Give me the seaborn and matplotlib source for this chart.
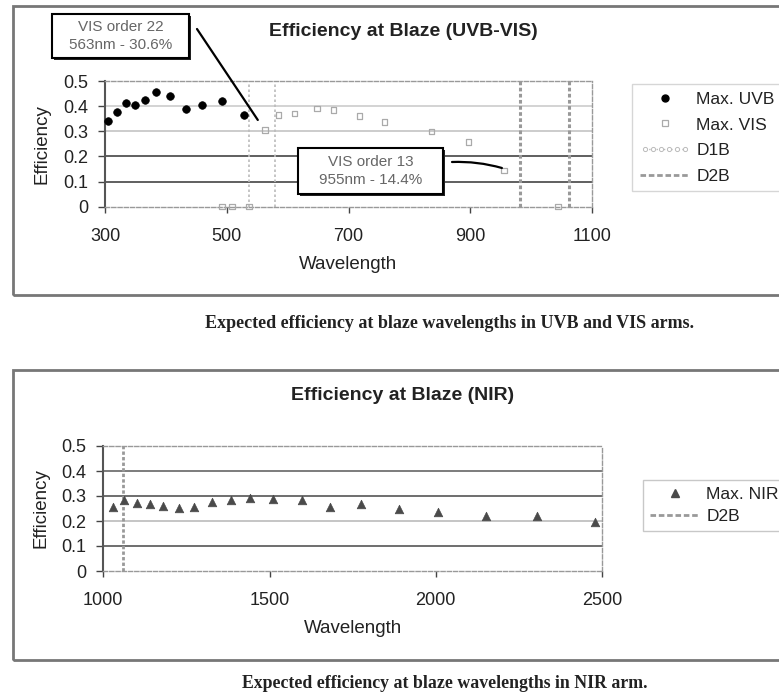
import numpy as np
import pandas as pd
import seaborn as sns
import matplotlib
matplotlib.use("Agg")
import matplotlib.pyplot as plt
from matplotlib.lines import Line2D
from matplotlib.patches import Rectangle
from matplotlib.legend_handler import HandlerLine2D
from matplotlib.ticker import FuncFormatter

# ---------------- data ----------------
uvb_wl = [305, 320, 334, 349, 366, 384, 407, 433, 459, 492, 528]
uvb_eff = [0.341, 0.375, 0.414, 0.406, 0.423, 0.458, 0.442, 0.388, 0.405, 0.419, 0.364]

vis_wl = [492, 509, 537, 563, 585, 611, 648, 675, 718, 759, 836, 897, 955, 1044]
vis_eff = [0.0, 0.0, 0.0, 0.306, 0.365, 0.371, 0.390, 0.384, 0.360, 0.337, 0.300, 0.258, 0.144, 0.0]

nir_wl = [1030, 1063, 1100, 1141, 1181, 1229, 1274, 1326, 1384, 1442, 1510,
          1598, 1681, 1775, 1889, 2006, 2152, 2303, 2479]
nir_eff = [0.255, 0.284, 0.273, 0.267, 0.260, 0.253, 0.255, 0.275, 0.283, 0.293, 0.288,
           0.284, 0.257, 0.268, 0.247, 0.235, 0.221, 0.221, 0.197]

d1b_top = [537, 579]
d2b_top = [981, 1063]
d2b_nir = [1060]

top_xticks = [300, 500, 700, 900, 1100]
nir_xticks = [1000, 1500, 2000, 2500]
yticks = [0, 0.1, 0.2, 0.3, 0.4, 0.5]

title_top = "Efficiency at Blaze (UVB-VIS)"
title_nir = "Efficiency at Blaze (NIR)"
caption_top = "Expected efficiency at blaze wavelengths in UVB and VIS arms."
caption_nir = "Expected efficiency at blaze wavelengths in NIR arm."
note1 = "VIS order 22\n563nm - 30.6%"
note2 = "VIS order 13\n955nm - 14.4%"
legend_top = ["Max. UVB", "Max. VIS", "D1B", "D2B"]
legend_nir = ["Max. NIR", "D2B"]

df_uvb = pd.DataFrame({"Wavelength": uvb_wl, "Efficiency": uvb_eff})
df_vis = pd.DataFrame({"Wavelength": vis_wl, "Efficiency": vis_eff})
df_nir = pd.DataFrame({"Wavelength": nir_wl, "Efficiency": nir_eff})

# ---------------- style ----------------
sns.set_theme(style="white")
plt.rcParams["font.family"] = ["Liberation Sans", "DejaVu Sans"]

W, H = 779, 698
fig = plt.figure(figsize=(W / 100, H / 100), dpi=100)
fig.patch.set_facecolor("white")


def fx(px):
    return px / W


def fy(py):
    return 1 - py / H


def frame(x0, y0, x1, y1):
    r = Rectangle((fx(x0), fy(y1)), fx(x1) - fx(x0), fy(y0) - fy(y1),
                  transform=fig.transFigure, fill=False, edgecolor="#777777",
                  lw=2.0, clip_on=False, zorder=0)
    fig.patches.append(r)


frame(12.7, 6, 800, 295)
frame(13, 370, 800, 660)


def style_axes(ax, xticks, xlim, grid_colors):
    ax.set_xlim(*xlim)
    ax.set_ylim(0, 0.5)
    ax.set_xticks(xticks)
    ax.set_yticks(yticks)
    ax.yaxis.set_major_formatter(FuncFormatter(lambda v, p: f"{v:g}"))
    ax.tick_params(axis="x", direction="out", length=4, width=1, color="#444444",
                   pad=11, labelsize=13, labelcolor="#222222", bottom=True)
    ax.tick_params(axis="y", direction="out", length=5, width=1, color="#444444",
                   pad=7, labelsize=13, labelcolor="#222222", left=True)
    for s in ["top", "right", "bottom"]:
        ax.spines[s].set_linestyle((0, (3, 1.5)))
        ax.spines[s].set_color("#999999")
        ax.spines[s].set_linewidth(1.0)
    ax.spines["left"].set_color("#555555")
    ax.spines["left"].set_linewidth(1.5)
    ax.yaxis.grid(True)
    ax.xaxis.grid(False)
    gl = ax.get_ygridlines()
    for line, c in zip(gl, grid_colors):
        line.set_color(c)
        line.set_linewidth(1.2)
    ax.set_axisbelow(True)


# ---------------- top chart ----------------
ax1 = fig.add_axes([fx(105), fy(206.7), fx(592) - fx(105), fy(81) - fy(206.7)])
style_axes(ax1, top_xticks, (300, 1100),
           ["none", "#444444", "#444444", "#c4c4c4", "#cccccc", "none"])
for x in d1b_top:
    ax1.axvline(x, color="#bbbbbb", lw=1.2, ls=(0, (1.5, 1.5)), zorder=1)
for x in d2b_top:
    ax1.axvline(x, color="#999999", lw=2.2, ls=(0, (1.2, 0.8)), zorder=1)

sns.scatterplot(data=df_uvb, x="Wavelength", y="Efficiency", ax=ax1, marker="o",
                color="black", s=30, edgecolor="black", linewidth=0.5, zorder=3,
                legend=False, clip_on=False)
sns.scatterplot(data=df_vis, x="Wavelength", y="Efficiency", ax=ax1, marker="s",
                facecolor="none", edgecolor="#aaaaaa", s=16, linewidth=0.9, zorder=3,
                legend=False, clip_on=False)
ax1.set_xlabel("Wavelength", fontsize=13.5, color="#222222", labelpad=8)
ax1.set_ylabel("Efficiency", fontsize=13.5, color="#222222", labelpad=9)

fig.text(fx(403), fy(32), title_top, fontsize=14, fontweight="bold",
         ha="center", va="center", color="#222222")


def note_box(x0, y0, x1, y1, text, ls):
    sh = Rectangle((fx(x0 + 2), fy(y1 + 2)), fx(x1) - fx(x0), fy(y0) - fy(y1),
                   transform=fig.transFigure, facecolor="#222222", edgecolor="none",
                   zorder=5)
    r = Rectangle((fx(x0), fy(y1)), fx(x1) - fx(x0), fy(y0) - fy(y1),
                  transform=fig.transFigure, facecolor="white", edgecolor="black",
                  lw=1.5, zorder=6)
    fig.patches.extend([sh, r])
    fig.text(fx((x0 + x1) / 2), fy((y0 + y1) / 2), text, fontsize=11,
             color="#666666", ha="center", va="center", linespacing=ls, zorder=7)


note_box(52, 14, 189, 58, note1, 1.45)
note_box(298, 148, 443, 194, note2, 1.35)

ax1.annotate("", xy=(551, 0.345), xycoords="data",
             xytext=(fx(197), fy(29)), textcoords="figure fraction",
             arrowprops=dict(arrowstyle="-", color="black", lw=1.6,
                             shrinkA=0, shrinkB=0), annotation_clip=False)
ax1.annotate("", xy=(952, 0.154), xycoords="data",
             xytext=(fx(452), fy(162)), textcoords="figure fraction",
             arrowprops=dict(arrowstyle="-", color="black", lw=1.6,
                             shrinkA=0, shrinkB=0,
                             connectionstyle="arc3,rad=-0.08"),
             annotation_clip=False)

h_top = [
    Line2D([], [], marker="o", color="black", ls="", markersize=5),
    Line2D([], [], marker="s", mfc="none", mec="#aaaaaa", ls="", markersize=4, mew=0.9),
    Line2D([], [], marker="o", mfc="white", mec="#bbbbbb", color="#bbbbbb",
           ls=":", lw=1, markersize=3, mew=0.7),
    Line2D([], [], color="#999999", ls=(0, (2, 1)), lw=2),
]
leg1 = fig.legend(h_top, legend_top, loc="upper left",
                  bbox_to_anchor=(fx(632), fy(84)), bbox_transform=fig.transFigure,
                  frameon=True, fancybox=False, edgecolor="#cccccc", fontsize=12.5,
                  handlelength=2.9, handletextpad=0.35, labelspacing=0.6,
                  borderpad=0.45, borderaxespad=0,
                  handler_map={h_top[2]: HandlerLine2D(numpoints=6),
                               h_top[0]: HandlerLine2D(numpoints=1),
                               h_top[1]: HandlerLine2D(numpoints=1)})
leg1.get_frame().set_linewidth(1.0)
for t in leg1.get_texts():
    t.set_color("#222222")

fig.text(fx(450), fy(323), caption_top, fontsize=13, fontweight="bold",
         family=["Liberation Serif", "DejaVu Serif"], ha="center", va="center",
         color="#222222")

# ---------------- bottom chart ----------------
ax2 = fig.add_axes([fx(103.3), fy(571), fx(602) - fx(103.3), fy(446) - fy(571)])
style_axes(ax2, nir_xticks, (1000, 2500),
           ["none", "#555555", "#bbbbbb", "#555555", "#666666", "none"])
for x in d2b_nir:
    ax2.axvline(x, color="#999999", lw=2.0, ls=(0, (1.2, 0.8)), zorder=1)
sns.scatterplot(data=df_nir, x="Wavelength", y="Efficiency", ax=ax2, marker="^",
                color="#4a4a4a", edgecolor="#4a4a4a", s=38, linewidth=0.5, zorder=3,
                legend=False)
ax2.set_xlabel("Wavelength", fontsize=13.5, color="#222222", labelpad=8)
ax2.set_ylabel("Efficiency", fontsize=13.5, color="#222222", labelpad=9)

fig.text(fx(403), fy(396), title_nir, fontsize=14, fontweight="bold",
         ha="center", va="center", color="#222222")

h_nir = [
    Line2D([], [], marker="^", color="#4a4a4a", ls="", markersize=6),
    Line2D([], [], color="#999999", ls=(0, (2, 1)), lw=2),
]
leg2 = fig.legend(h_nir, legend_nir, loc="upper left",
                  bbox_to_anchor=(fx(643), fy(480)), bbox_transform=fig.transFigure,
                  frameon=True, fancybox=False, edgecolor="#bbbbbb", fontsize=12.5,
                  handlelength=2.9, handletextpad=0.35, labelspacing=0.4,
                  borderpad=0.4, borderaxespad=0,
                  handler_map={h_nir[0]: HandlerLine2D(numpoints=1)})
leg2.get_frame().set_linewidth(1.0)
for t in leg2.get_texts():
    t.set_color("#222222")

fig.text(fx(445), fy(684), caption_nir, fontsize=12.8, fontweight="bold",
         family=["Liberation Serif", "DejaVu Serif"], ha="center", va="center",
         color="#222222")

fig.savefig("out.png", dpi=100)
